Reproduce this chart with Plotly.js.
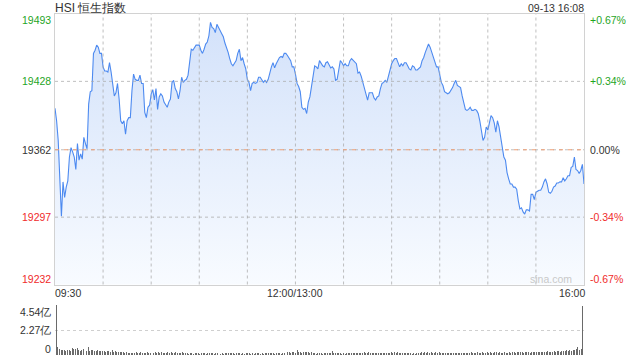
<!DOCTYPE html>
<html>
<head>
<meta charset="utf-8">
<script src="https://cdn.plot.ly/plotly-3.0.1.min.js"></script>
<style>
  html, body { margin: 0; padding: 0; background: #ffffff; }
  #chart { width: 640px; height: 360px; }
</style>
</head>
<body>
<div id="chart"></div>
<script>
// ---- data ----
const chartTitle = 'HSI 恒生指数';
const stamp = '09-13 16:08';
const timeLabels = ['09:30', '12:00/13:00', '16:00'];
const timeLabelMinutes = [0, 150, 330];
const gridMinutes = [30, 60, 90, 120, 150, 180, 210, 240, 270, 300];
const priceTicks = [19493, 19428, 19362, 19297, 19232];
const pctTicks = ['+0.67%', '+0.34%', '0.00%', '-0.34%', '-0.67%'];
const prevClose = 19362;
const volTicks = [4.54, 2.27, 0];
const volTickText = ['4.54亿', '2.27亿', '0'];

// one price per trading minute (09:30 -> 16:00, lunch break removed)
const prices = [
  19402,19390,19371,19335,19298,19331,19316,19326,19332,19355,
  19364,19360,19355,19343,19368,19352,19358,19353,19374,19368,
  19363,19406,19418,19419,19455,19458,19463,19461,19455,19455,
  19442,19438,19438,19437,19446,19437,19424,19414,19417,19426,
  19411,19390,19387,19390,19377,19390,19393,19393,19419,19435,
  19430,19429,19429,19434,19426,19426,19398,19393,19403,19405,
  19416,19420,19410,19421,19401,19413,19416,19414,19408,19406,
  19403,19408,19411,19427,19429,19421,19418,19411,19419,19432,
  19427,19429,19430,19434,19450,19459,19458,19461,19463,19463,
  19463,19458,19455,19459,19464,19466,19472,19485,19480,19479,
  19475,19483,19479,19477,19474,19471,19465,19461,19456,19450,
  19445,19443,19445,19448,19455,19459,19448,19451,19445,19440,
  19430,19427,19419,19426,19427,19426,19427,19432,19432,19429,
  19427,19429,19427,19430,19437,19442,19446,19441,19445,19448,
  19451,19452,19451,19455,19455,19453,19450,19448,19442,19442,
  19435,19426,19423,19418,19403,19401,19402,19397,19408,19413,
  19423,19434,19443,19442,19440,19448,19445,19443,19442,19446,
  19447,19443,19441,19442,19440,19429,19430,19439,19448,19446,
  19443,19445,19443,19443,19448,19450,19448,19446,19445,19436,
  19437,19433,19427,19421,19414,19410,19417,19417,19417,19412,
  19410,19413,19414,19421,19426,19427,19429,19427,19434,19440,
  19445,19448,19450,19450,19446,19442,19445,19443,19446,19446,
  19443,19440,19439,19443,19442,19439,19439,19441,19442,19448,
  19451,19456,19461,19464,19461,19456,19451,19448,19442,19442,
  19433,19427,19424,19418,19417,19416,19417,19419,19422,19426,
  19429,19424,19423,19422,19414,19408,19401,19400,19401,19403,
  19400,19400,19401,19400,19397,19390,19381,19371,19374,19384,
  19381,19390,19395,19393,19388,19379,19390,19384,19374,19364,
  19355,19352,19340,19334,19329,19329,19326,19326,19324,19313,
  19305,19306,19302,19300,19304,19304,19303,19319,19319,19314,
  19321,19322,19323,19323,19326,19331,19334,19329,19321,19320,
  19322,19326,19327,19330,19330,19331,19331,19335,19332,19334,
  19337,19337,19345,19346,19355,19343,19342,19339,19342,19348,
  19329
];

// volume per minute, in 亿
const volumes = [
  4.54,
  0.76,0.55,0.48,0.45,0.42,0.36,0.42,0.48,0.40,0.67,
  0.52,0.58,0.67,0.45,0.40,0.46,0.52,0.55,0.40,0.76,
  0.40,0.42,0.45,0.40,0.36,0.42,0.38,0.33,0.40,0.36,
  0.30,0.36,0.33,0.30,0.42,0.30,0.33,0.27,0.30,0.24,
  0.27,0.24,0.21,0.24,0.18,0.21,0.15,0.18,0.21,0.24,
  0.18,0.21,0.24,0.21,0.18,0.21,0.24,0.18,0.21,0.18,
  0.21,0.24,0.18,0.27,0.21,0.24,0.21,0.18,0.21,0.24,
  0.21,0.24,0.18,0.21,0.27,0.21,0.18,0.21,0.24,0.21,
  0.18,0.15,0.12,0.15,0.18,0.12,0.15,0.18,0.15,0.12,
  0.15,0.18,0.15,0.12,0.15,0.18,0.21,0.15,0.12,0.15,
  0.18,0.15,0.12,0.15,0.12,0.15,0.18,0.21,0.15,0.18,
  0.15,0.12,0.15,0.18,0.15,0.12,0.15,0.12,0.15,0.18,
  0.15,0.12,0.15,0.12,0.15,0.18,0.15,0.12,0.15,0.12,
  0.15,0.18,0.21,0.15,0.18,0.15,0.12,0.15,0.18,0.15,
  0.12,0.18,0.15,0.21,0.27,0.24,0.21,0.30,0.24,0.21,
  0.42,0.27,0.24,0.21,0.27,0.24,0.30,0.24,0.21,0.24,
  0.18,0.15,0.12,0.15,0.18,0.15,0.12,0.15,0.18,0.15,
  0.18,0.15,0.36,0.18,0.21,0.15,0.18,0.15,0.12,0.15,
  0.12,0.15,0.21,0.18,0.15,0.18,0.15,0.21,0.18,0.15,
  0.21,0.18,0.24,0.21,0.18,0.24,0.21,0.18,0.15,0.18,
  0.15,0.18,0.21,0.18,0.15,0.18,0.21,0.15,0.18,0.24,
  0.18,0.24,0.21,0.27,0.18,0.21,0.18,0.15,0.18,0.15,
  0.18,0.15,0.12,0.15,0.12,0.15,0.18,0.21,0.24,0.18,
  0.27,0.21,0.24,0.18,0.27,0.21,0.18,0.24,0.21,0.27,
  0.21,0.18,0.21,0.15,0.18,0.15,0.21,0.18,0.15,0.18,
  0.21,0.18,0.15,0.18,0.21,0.18,0.15,0.18,0.21,0.24,
  0.18,0.21,0.18,0.24,0.21,0.18,0.24,0.21,0.18,0.24,
  0.21,0.24,0.18,0.21,0.24,0.27,0.21,0.24,0.18,0.21,
  0.24,0.21,0.18,0.24,0.21,0.27,0.24,0.21,0.24,0.27,
  0.24,0.27,0.21,0.24,0.27,0.24,0.21,0.27,0.24,0.30,
  0.27,0.24,0.30,0.27,0.24,0.30,0.27,0.33,0.30,0.27,
  0.30,0.33,0.27,0.36,0.33,0.30,0.36,0.33,0.39,0.42,
  0.36,0.42,0.39,0.48,0.42,0.52,0.73,0.45,0.55,
  4.45
];

// ---- chart ----
const minutes = prices.map((_, i) => i);
const FONT = '"Liberation Sans", Arial, Helvetica, sans-serif';
const GREEN = '#1fa51f', RED = '#f02b2b', DARK = '#333333';
const pRange = [priceTicks[priceTicks.length - 1], priceTicks[0]];

function tickColor(i, n) {
  const mid = (n - 1) / 2;
  return i < mid ? GREEN : (i > mid ? RED : DARK);
}

const traces = [
  {
    x: minutes, y: prices, type: 'scatter', mode: 'lines',
    line: { color: '#4d8af0', width: 1.1 },
    fill: 'tozeroy',
    fillgradient: {
      type: 'vertical', start: pRange[0], stop: pRange[1],
      colorscale: [[0, 'rgb(248,251,255)'], [1, 'rgb(210,225,250)']]
    },
    hoverinfo: 'skip', xaxis: 'x', yaxis: 'y'
  },
  {
    x: minutes, y: volumes, type: 'bar', width: 0.62,
    marker: { color: '#6a6a6a', line: { width: 0 } },
    hoverinfo: 'skip', xaxis: 'x2', yaxis: 'y2'
  }
];

const annotations = [];
priceTicks.forEach((v, i) => {
  const n = priceTicks.length;
  const shift = i === 0 ? -6 : (i === n - 1 ? 6 : 0);
  const col = tickColor(i, n);
  annotations.push({ xref: 'paper', yref: 'y', x: 0, y: v, xanchor: 'right', yanchor: 'middle',
    xshift: -2, yshift: shift, text: String(v), showarrow: false, font: { family: FONT, size: 10.5, color: col } });
  annotations.push({ xref: 'paper', yref: 'y', x: 1, y: v, xanchor: 'left', yanchor: 'middle',
    xshift: 4, yshift: shift, text: pctTicks[i], showarrow: false, font: { family: FONT, size: 10.5, color: col } });
});
volTicks.forEach((v, i) => {
  const shift = i === 0 ? -7 : (i === volTicks.length - 1 ? 6 : 0);
  annotations.push({ xref: 'paper', yref: 'y2', x: 0, y: v, xanchor: 'right', yanchor: 'middle',
    xshift: -2, yshift: shift, text: volTickText[i], showarrow: false, font: { family: FONT, size: 10.5, color: DARK } });
});
timeLabels.forEach((t, i) => {
  const m = timeLabelMinutes[i];
  const anchor = i === 0 ? 'left' : (i === timeLabels.length - 1 ? 'right' : 'center');
  annotations.push({ xref: 'x', yref: 'paper', x: m, y: 0.1818, xanchor: anchor, yanchor: 'middle',
    xshift: i === 0 ? -2 : (anchor === 'right' ? 3 : 0),
    text: t, showarrow: false, font: { family: FONT, size: 10.5, color: DARK } });
});
annotations.push({ xref: 'paper', yref: 'paper', x: 1, y: 1.019, xanchor: 'right', yanchor: 'middle',
  xshift: 2, text: stamp, showarrow: false, font: { family: FONT, size: 10.5, color: DARK } });
annotations.push({ xref: 'paper', yref: 'y', x: 0.938, y: pRange[0], xanchor: 'center', yanchor: 'middle',
  yshift: 6, text: 'sina.com', showarrow: false, font: { family: FONT, size: 10.5, color: '#c9c9c9' } });

// dotted grid drawn as shapes so it stays visible through the area fill
const gridStyle = { color: 'rgba(170,170,170,0.75)', width: 1, dash: 'dot' };
const shapes = [];
gridMinutes.forEach(m => shapes.push({ type: 'line', xref: 'x', yref: 'y domain', x0: m, x1: m, y0: 0, y1: 1,
  line: gridStyle, layer: 'above' }));
priceTicks.slice(1, -1).forEach(v => shapes.push({ type: 'line', xref: 'x domain', yref: 'y', x0: 0, x1: 1, y0: v, y1: v,
  line: gridStyle, layer: 'above' }));
shapes.push({ type: 'line', xref: 'x domain', yref: 'y', x0: 0, x1: 1, y0: prevClose, y1: prevClose,
  line: { color: '#ee9f75', width: 1, dash: '4px,5px' }, layer: 'above' });

const layout = {
  width: 640, height: 360,
  margin: { l: 55, r: 56, t: 14, b: 5, pad: 0 },
  paper_bgcolor: '#ffffff', plot_bgcolor: 'rgba(0,0,0,0)',
  showlegend: false,
  font: { family: FONT, size: 10.5, color: DARK },
  title: { text: chartTitle, x: 0, xref: 'paper', xanchor: 'left', y: 0.979, yanchor: 'middle',
    font: { family: FONT, size: 12, color: DARK } },
  xaxis: {
    domain: [0, 1], range: [0, 330],
    showgrid: false, showticklabels: false, ticks: '', zeroline: false,
    showline: true, mirror: true, linecolor: '#d2d2d2', linewidth: 1, anchor: 'y'
  },
  yaxis: {
    domain: [0.2067, 1], range: pRange,
    showgrid: false, showticklabels: false, ticks: '', zeroline: false,
    showline: true, mirror: true, linecolor: '#d2d2d2', linewidth: 1, anchor: 'x'
  },
  xaxis2: {
    domain: [0, 1], range: [-0.8, 330.8], anchor: 'y2',
    showgrid: false, showticklabels: false, ticks: '', zeroline: false, showline: false
  },
  yaxis2: {
    domain: [0, 0.1466], range: [0, volTicks[0]], tickvals: volTicks.slice(0, 2), anchor: 'x2',
    showgrid: true, gridcolor: '#cfcfcf', griddash: 'dot', gridwidth: 1,
    showticklabels: false, ticks: '', zeroline: false, showline: false
  },
  shapes: shapes,
  annotations: annotations,
  bargap: 0
};

Plotly.newPlot('chart', traces, layout, { displayModeBar: false, staticPlot: true });
</script>
</body>
</html>
